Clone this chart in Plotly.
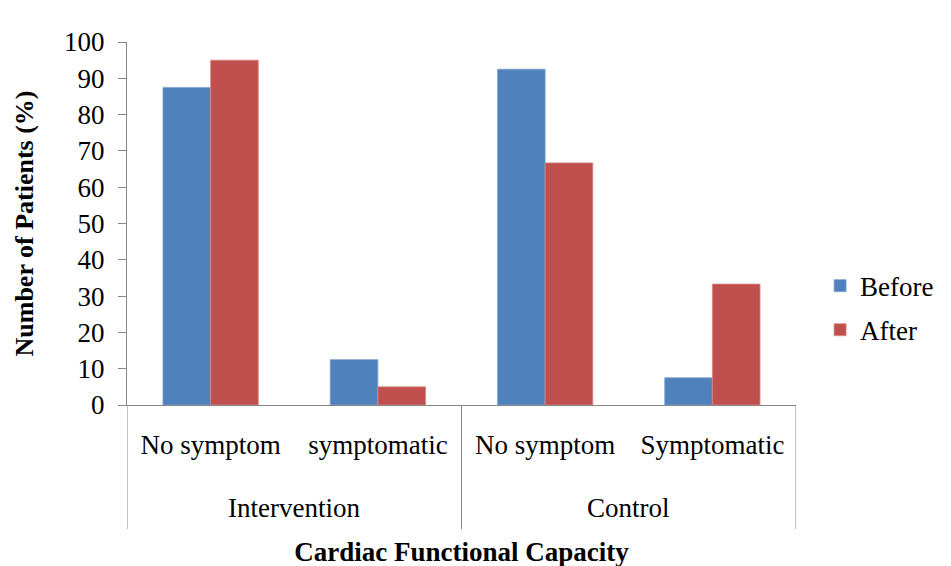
import plotly.graph_objects as go

groups = ["Intervention", "Control"]
subcats = ["No symptom", "symptomatic", "No symptom", "Symptomatic"]
keys = ["Intervention|No symptom", "Intervention|symptomatic",
        "Control|No symptom", "Control|Symptomatic"]
before = [87.5, 12.5, 92.5, 7.5]
after = [95.0, 5.0, 66.7, 33.3]
y_ticks = list(range(0, 101, 10))

FONT = "Liberation Serif, Times New Roman, serif"
AXC = "#868686"

fig = go.Figure()
fig.add_trace(go.Bar(x=keys, y=before, name="Before", legendgroup="b",
                     marker=dict(color="#4F81BD", line=dict(color="#7FA3D3", width=0.8))))
fig.add_trace(go.Bar(x=keys, y=after, name="After", legendgroup="a",
                     marker=dict(color="#C0504D", line=dict(color="#D98683", width=0.8))))

# group labels and dividers (category positions 0..3)
n_per = 2
for gi, g in enumerate(groups):
    center = gi * n_per + (n_per - 1) / 2
    fig.add_annotation(x=center, xref="x", y=-0.285, yref="paper", text=g,
                       showarrow=False, font=dict(size=27), yanchor="middle")
for b in [-0.5, 1.5, 3.5]:
    fig.add_shape(type="line", xref="x", yref="paper", x0=b, x1=b, y0=0, y1=-0.342,
                  line=dict(color=AXC, width=1))

fig.update_layout(
    width=943, height=559,
    margin=dict(l=119, r=148, t=34, b=162),
    paper_bgcolor="white", plot_bgcolor="white",
    barmode="group", bargap=0.43, bargroupgap=0,
    font=dict(family=FONT, size=26, color="black"),
    legend=dict(x=1.036, y=0.267, xanchor="left", yanchor="middle",
                font=dict(size=27), tracegroupgap=6, itemwidth=30),
    showlegend=True,
)
fig.update_yaxes(range=[0, 100], tickvals=y_ticks, showgrid=False, automargin=False,
                 showline=True, linecolor=AXC, linewidth=1,
                 ticks="outside", ticklen=8, tickcolor=AXC,
                 ticklabelstandoff=8,
                 tickfont=dict(size=27),
                 title=dict(text="<b>Number of Patients (%)</b>", font=dict(size=26), standoff=22))
fig.update_xaxes(type="category", tickvals=keys, ticktext=subcats, automargin=False,
                 showgrid=False, showline=True, linecolor=AXC, linewidth=1,
                 ticks="", tickfont=dict(size=27), range=[-0.5, 3.5],
                 ticklabelstandoff=16,
                 title=dict(text="<b>Cardiac Functional Capacity</b>", font=dict(size=27), standoff=83))

fig.write_html("out.html")
